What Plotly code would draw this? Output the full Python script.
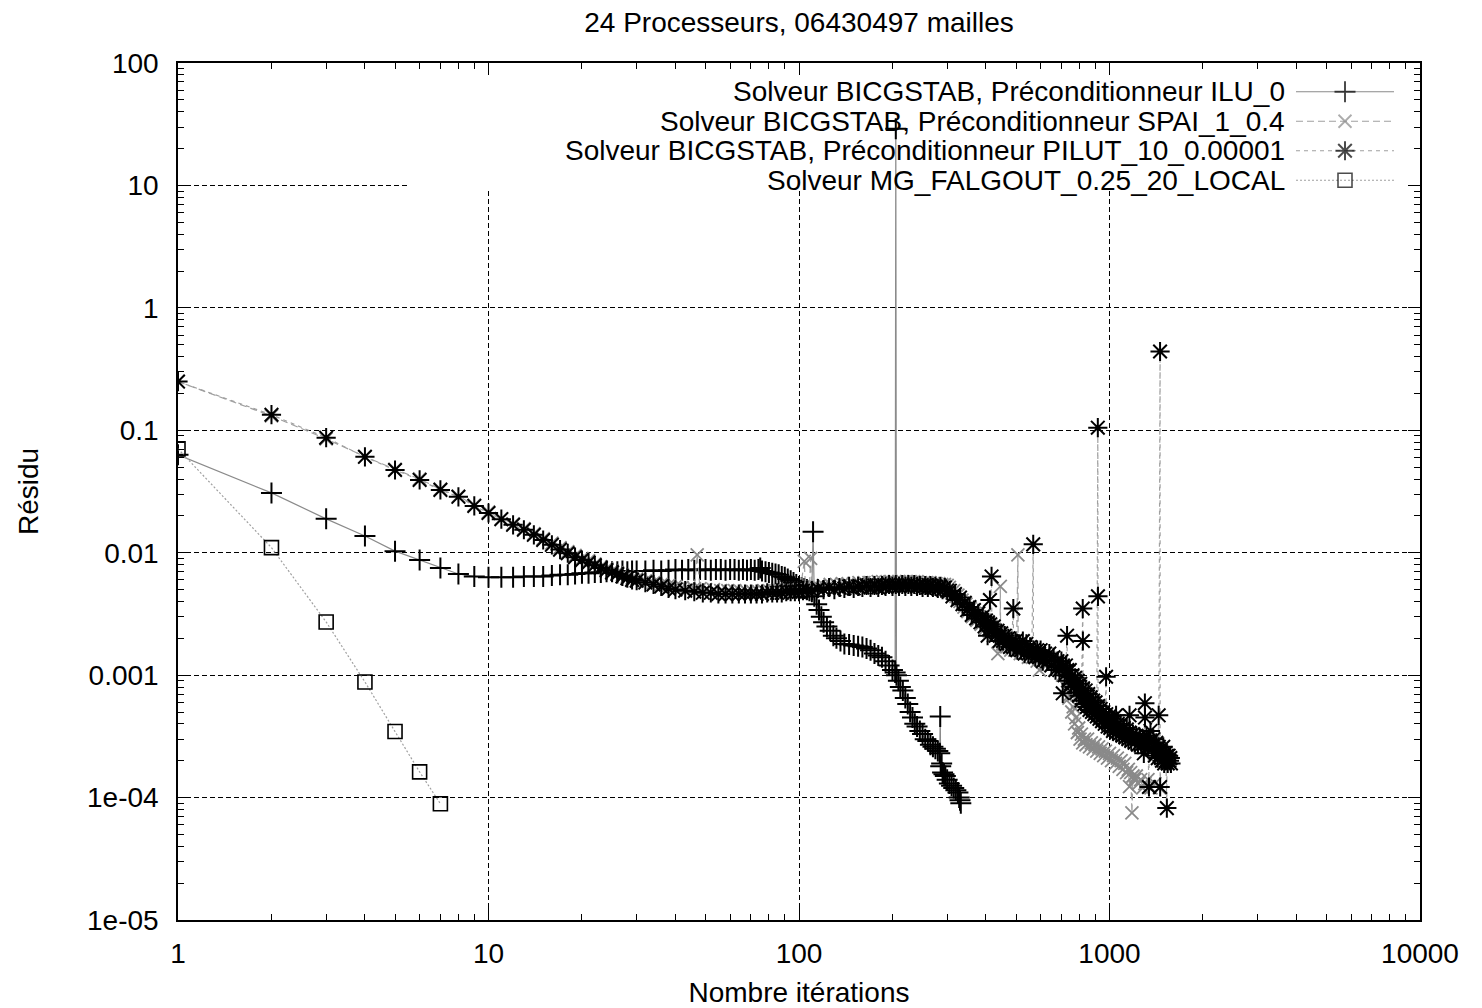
import plotly.graph_objects as go

# ---------------- data ----------------
ilu_x = [1, 2, 3, 4, 5, 6, 7, 8, 9, 10,
         11, 12, 13, 14, 15, 16, 17, 18, 19, 20,
         21, 22, 23, 24, 25, 26, 27, 28, 29, 30,
         32, 34, 36, 38, 40, 42, 44, 46, 48, 50,
         52, 54, 56, 58, 60, 62, 64, 66, 68, 70,
         72, 74, 75, 76, 78, 80, 82, 84, 86, 88,
         90, 92, 94, 96, 98, 100, 102, 104, 106, 108,
         110, 111, 112, 114, 116, 118, 120, 123, 126, 129,
         132, 136, 140, 145, 150, 155, 160, 165, 170, 175,
         180, 185, 190, 195, 200, 204, 205, 206, 209, 212,
         216, 220, 224, 228, 232, 236, 240, 245, 250, 255,
         260, 265, 270, 275, 280, 284, 285, 286, 288, 290,
         293, 296, 300, 305, 310, 315, 320, 325, 328, 330,
         332]
ilu_y = [0.063, 0.0308, 0.0189, 0.0137, 0.0103, 0.0087, 0.0075, 0.0067, 0.0064, 0.0063,
         0.0063, 0.0063, 0.0064, 0.0064, 0.0064, 0.0065, 0.0066, 0.0066, 0.0067, 0.0068,
         0.0068, 0.0069, 0.0069, 0.0070, 0.0070, 0.0070, 0.0071, 0.0070, 0.0071, 0.0071,
         0.0071, 0.0072, 0.0071, 0.0072, 0.0073, 0.0072, 0.0073, 0.0072, 0.0073, 0.0073,
         0.0072, 0.0073, 0.0073, 0.0072, 0.0073, 0.0073, 0.0072, 0.0073, 0.0072, 0.0073,
         0.0072, 0.0073, 0.0075, 0.0071, 0.0070, 0.0069, 0.0068, 0.0067, 0.0066, 0.0064,
         0.0063, 0.0061, 0.0059, 0.0057, 0.0055, 0.0053, 0.0052, 0.0051, 0.0050, 0.0049,
         0.0048, 0.0148, 0.0044, 0.0038, 0.0034, 0.0030, 0.0027, 0.0025, 0.0023, 0.0021,
         0.0020, 0.0019, 0.0018, 0.00178, 0.00175, 0.00172, 0.0017, 0.00165, 0.0016, 0.0015,
         0.00145, 0.0014, 0.0013, 0.0012, 0.0011, 0.00105, 29.0, 0.001, 0.0009, 0.0008,
         0.00075, 0.00065, 0.00058, 0.0005, 0.00045, 0.0004, 0.00038, 0.00035, 0.00033, 0.0003,
         0.00029, 0.00027, 0.00026, 0.00025, 0.00024, 0.00023, 0.00046, 0.00018, 0.00019, 0.00016,
         0.000155, 0.00015, 0.00014, 0.00013, 0.000125, 0.00012, 0.000115, 0.00011, 0.0001, 0.000095,
         0.00009]

spai_x = [1, 2, 3, 4, 5, 6, 7, 8, 9, 10,
          11, 12, 13, 14, 15, 16, 17, 18, 19, 20,
          21, 22, 23, 24, 25, 26, 27, 28, 29, 30,
          32, 34, 36, 38, 40, 42, 44, 46, 47, 48,
          50, 53, 56, 59, 62, 65, 68, 71, 74, 77,
          80, 83, 86, 89, 92, 95, 98, 101, 104, 105,
          108, 109, 110, 115, 120, 126, 132, 138, 144, 150,
          156, 162, 168, 174, 180, 186, 192, 198, 204, 210,
          216, 222, 228, 234, 240, 246, 252, 258, 264, 270,
          276, 282, 288, 294, 300, 305, 310, 315, 320, 325,
          330, 335, 340, 345, 350, 356, 362, 368, 374, 380,
          386, 392, 398, 404, 410, 416, 422, 428, 437, 438,
          444, 445, 446, 453, 460, 467, 474, 481, 488, 495,
          502, 507, 508, 516, 524, 532, 540, 548, 556, 565,
          575, 585, 595, 596, 606, 616, 626, 636, 646, 656,
          666, 676, 686, 696, 706, 716, 724, 732, 740, 748,
          756, 764, 772, 780, 788, 796, 804, 812, 820, 830,
          840, 850, 862, 874, 886, 898, 910, 922, 934, 946,
          958, 970, 985, 1000, 1015, 1030, 1045, 1060, 1075, 1090,
          1105, 1120, 1135, 1150, 1160, 1170, 1181, 1190, 1205, 1220,
          1240, 1260, 1280, 1300, 1330, 1360, 1400, 1450]
spai_y = [0.25, 0.131, 0.085, 0.061, 0.048, 0.040, 0.033, 0.029, 0.0245, 0.0215,
          0.019, 0.0172, 0.0157, 0.0143, 0.013, 0.012, 0.011, 0.0102, 0.0095, 0.009,
          0.0086, 0.0081, 0.0077, 0.0074, 0.0071, 0.0069, 0.0066, 0.0064, 0.0062, 0.0061,
          0.0059, 0.0057, 0.0055, 0.0054, 0.0053, 0.0052, 0.0051, 0.0051, 0.0096, 0.0051,
          0.0050, 0.0050, 0.0049, 0.0049, 0.0049, 0.0048, 0.0048, 0.0048, 0.0048, 0.0049,
          0.0049, 0.0049, 0.0049, 0.0049, 0.0050, 0.0050, 0.0050, 0.0050, 0.0085, 0.0050,
          0.0051, 0.0090, 0.0052, 0.0053, 0.0054, 0.0055, 0.0055, 0.0056, 0.0056, 0.0056,
          0.0057, 0.0057, 0.0057, 0.0057, 0.0058, 0.0058, 0.0058, 0.0058, 0.0058, 0.0058,
          0.0058, 0.0058, 0.0058, 0.0058, 0.0058, 0.0057, 0.0057, 0.0057, 0.0057, 0.0056,
          0.0056, 0.0056, 0.0055, 0.0055, 0.0054, 0.0052, 0.0047, 0.0049, 0.0044, 0.0045,
          0.0040, 0.0041, 0.0036, 0.0038, 0.0033, 0.0035, 0.0030, 0.0032, 0.0028, 0.0030,
          0.0026, 0.0028, 0.0024, 0.0026, 0.0023, 0.0025, 0.0021, 0.0023, 0.0015, 0.0022,
          0.0019, 0.0053, 0.0021, 0.0018, 0.0020, 0.0017, 0.0019, 0.0016, 0.0018, 0.0016,
          0.0017, 0.0096, 0.0017, 0.0015, 0.0017, 0.0015, 0.0016, 0.0014, 0.0016, 0.0014,
          0.0015, 0.0013, 0.0011, 0.0015, 0.0013, 0.0014, 0.0012, 0.0014, 0.0012, 0.0013,
          0.0011, 0.0013, 0.0011, 0.0012, 0.0010, 0.0011, 0.0008, 0.0009, 0.00065, 0.0007,
          0.0005, 0.00055, 0.0004, 0.00045, 0.00034, 0.00037, 0.0003, 0.00033, 0.00028, 0.0003,
          0.00027, 0.00030, 0.00026, 0.00028, 0.00025, 0.00027, 0.00024, 0.00026, 0.00023, 0.00025,
          0.00022, 0.00024, 0.00021, 0.00023, 0.0002, 0.00022, 0.00019, 0.00021, 0.00018, 0.0002,
          0.00017, 0.00019, 0.00016, 0.00017, 0.000123, 0.00016, 0.000075, 0.00015, 0.00014, 0.00015,
          0.00013, 0.00014, 0.00012, 0.00013, 0.00014, 0.00012, 0.00013, 0.00012]

pilut_x = [1, 2, 3, 4, 5, 6, 7, 8, 9, 10,
           11, 12, 13, 14, 15, 16, 17, 18, 19, 20,
           21, 22, 23, 24, 25, 26, 27, 28, 29, 30,
           32, 34, 36, 38, 40, 43, 46, 49, 52, 55,
           58, 61, 64, 67, 70, 73, 76, 79, 82, 85,
           88, 91, 94, 97, 100, 103, 106, 110, 115, 120,
           125, 130, 135, 140, 145, 150, 155, 160, 165, 170,
           175, 180, 185, 190, 195, 200, 205, 210, 215, 220,
           225, 230, 235, 240, 245, 250, 255, 260, 265, 270,
           275, 280, 285, 290, 295, 300, 306, 312, 318, 324,
           330, 336, 342, 348, 354, 360, 366, 372, 378, 384,
           390, 396, 400, 405, 406, 411, 412, 413, 417, 418,
           424, 430, 436, 442, 448, 454, 460, 466, 472, 478,
           484, 490, 491, 498, 505, 512, 519, 526, 533, 540,
           548, 555, 562, 568, 569, 577, 585, 593, 600, 610,
           620, 630, 640, 650, 660, 670, 680, 690, 700, 707,
           708, 716, 724, 730, 731, 738, 745, 752, 760, 768,
           775, 783, 790, 798, 805, 812, 820, 821, 822, 830,
           838, 846, 854, 862, 870, 878, 886, 894, 902, 910,
           917, 918, 919, 928, 937, 946, 955, 965, 975, 976,
           986, 996, 1006, 1016, 1026, 1036, 1050, 1051, 1063, 1075,
           1087, 1100, 1112, 1125, 1137, 1150, 1160, 1161, 1175, 1190,
           1205, 1220, 1235, 1250, 1265, 1280, 1290, 1300, 1301, 1302,
           1316, 1330, 1340, 1341, 1355, 1370, 1385, 1400, 1415, 1430,
           1440, 1441, 1455, 1456, 1465, 1475, 1490, 1500, 1510, 1520,
           1530, 1531, 1540, 1550, 1560, 1570, 1577]
pilut_y = [0.25, 0.134, 0.087, 0.0607, 0.0474, 0.0393, 0.0326, 0.0286, 0.0241, 0.0211,
           0.0188, 0.0169, 0.0154, 0.014, 0.0127, 0.0116, 0.0106, 0.0099, 0.0092, 0.0087,
           0.0083, 0.0079, 0.0075, 0.0072, 0.0069, 0.0067, 0.0064, 0.0062, 0.0060, 0.0059,
           0.0057, 0.0055, 0.0053, 0.0051, 0.0050, 0.0049, 0.0048, 0.0047, 0.0047, 0.0046,
           0.0046, 0.0046, 0.0046, 0.0046, 0.0046, 0.0046, 0.0046, 0.0047, 0.0047, 0.0047,
           0.0047, 0.0048, 0.0048, 0.0048, 0.0048, 0.0049, 0.0049, 0.0049, 0.0051, 0.0050,
           0.0052, 0.0050, 0.0052, 0.0051, 0.0053, 0.0051, 0.0053, 0.0052, 0.0054, 0.0052,
           0.0054, 0.0052, 0.0054, 0.0053, 0.0055, 0.0053, 0.0055, 0.0053, 0.0055, 0.0053,
           0.0055, 0.0053, 0.0055, 0.0053, 0.0054, 0.0052, 0.0054, 0.0052, 0.0054, 0.0052,
           0.0053, 0.0051, 0.0053, 0.0050, 0.0052, 0.0049, 0.0049, 0.0044, 0.0046, 0.0041,
           0.0043, 0.0038, 0.0039, 0.0034, 0.0036, 0.0031, 0.0034, 0.0029, 0.0032, 0.0027,
           0.0030, 0.0025, 0.0028, 0.0021, 0.0027, 0.0024, 0.0041, 0.0026, 0.0064, 0.0023,
           0.0025, 0.0021, 0.0023, 0.0019, 0.0022, 0.0019, 0.0021, 0.0018, 0.0020, 0.0017,
           0.0019, 0.0035, 0.0017, 0.0019, 0.0016, 0.0018, 0.0016, 0.0019, 0.0015, 0.0018,
           0.0015, 0.0017, 0.0015, 0.0117, 0.0016, 0.0014, 0.0016, 0.0014, 0.0016, 0.0013,
           0.0015, 0.0013, 0.0015, 0.0012, 0.0014, 0.0011, 0.0013, 0.0011, 0.0013, 0.00071,
           0.0012, 0.0010, 0.0012, 0.0021, 0.0011, 0.0009, 0.0011, 0.00085, 0.0010, 0.0008,
           0.00095, 0.00072, 0.0009, 0.00068, 0.00085, 0.00062, 0.0035, 0.0019, 0.00078, 0.00058,
           0.00075, 0.00055, 0.0007, 0.00052, 0.00066, 0.0005, 0.00062, 0.00048, 0.0006, 0.00046,
           0.105, 0.0044, 0.00056, 0.00044, 0.00053, 0.00042, 0.0005, 0.0004, 0.00097, 0.00048,
           0.00038, 0.00046, 0.00037, 0.00044, 0.00035, 0.00042, 0.00047, 0.00034, 0.0004, 0.00033,
           0.00039, 0.00032, 0.00037, 0.00031, 0.00036, 0.0003, 0.00047, 0.00034, 0.00029, 0.00033,
           0.00028, 0.00032, 0.00027, 0.00031, 0.00027, 0.0003, 0.00023, 0.00059, 0.00045, 0.00028,
           0.00032, 0.00026, 0.000122, 0.00028, 0.00035, 0.00025, 0.0003, 0.00022, 0.00028, 0.00021,
           0.00047, 0.00026, 0.44, 0.000122, 0.00024, 0.0002, 0.00026, 0.00019, 0.00023, 0.0002,
           0.000082, 0.00022, 0.00019, 0.00022, 0.0002, 0.00021, 0.00019]

mg_x = [1, 2, 3, 4, 5, 6, 7]
mg_y = [0.0705, 0.011, 0.00272, 0.00088, 0.000346, 0.000162, 0.000089]

series_names = ["Solveur BICGSTAB, Préconditionneur ILU_0",
                "Solveur BICGSTAB, Préconditionneur SPAI_1_0.4",
                "Solveur BICGSTAB, Préconditionneur PILUT_10_0.00001",
                "Solveur MG_FALGOUT_0.25_20_LOCAL"]

x_tickvals = [1, 10, 100, 1000, 10000]
x_ticktext = ["1", "10", "100", "1000", "10000"]
y_tickvals = [1e-5, 1e-4, 1e-3, 1e-2, 1e-1, 1, 10, 100]
y_ticktext = ["1e-05", "1e-04", "0.001", "0.01", "0.1", "1", "10", "100"]

assert len(ilu_x) == len(ilu_y)
assert len(spai_x) == len(spai_y)
assert len(pilut_x) == len(pilut_y)

# ---------------- styles ----------------
FONT = "Liberation Sans, Arial, Helvetica, sans-serif"
FS = 28
GREY = "#8a8a8a"
LGREY = "#a0a0a0"

styles = [
    dict(line=dict(color=GREY, width=1.2),
         marker=dict(symbol="cross-thin", size=15, color="black",
                     line=dict(color="black", width=2))),
    dict(line=dict(color=LGREY, width=1.2, dash="7px,4px"),
         marker=dict(symbol="x-thin", size=13, color=GREY,
                     line=dict(color=GREY, width=1.8))),
    dict(line=dict(color=LGREY, width=1.2, dash="4px,4px"),
         marker=dict(symbol="asterisk", size=16, color="black",
                     line=dict(color="black", width=2))),
    dict(line=dict(color=LGREY, width=1.2, dash="2px,2px"),
         marker=dict(symbol="square-open", size=14, color="black",
                     line=dict(color="black", width=1.6))),
]

fig = go.Figure()
data = [(ilu_x, ilu_y), (spai_x, spai_y), (pilut_x, pilut_y), (mg_x, mg_y)]
for (xs, ys), st, nm in zip(data, styles, series_names):
    fig.add_trace(go.Scatter(x=xs, y=ys, mode="lines+markers", name=nm,
                             line=st["line"], marker=st["marker"],
                             showlegend=False))

# ---------------- custom key (text left of sample, gnuplot style) ----------------
rows = [3.5, 2.5, 1.5, 0.5]
for st, r in zip(styles, rows):
    m = dict(st["marker"])
    m["size"] = [0, st["marker"]["size"], 0]
    fig.add_trace(go.Scatter(x=[0, 0.5, 1], y=[r, r, r], xaxis="x2", yaxis="y2",
                             mode="lines+markers", line=st["line"], marker=m,
                             showlegend=False, hoverinfo="skip"))

annotations = []
for nm, r in zip(series_names, rows):
    annotations.append(dict(text=nm, x=(1287 - 178) / 1242, xref="paper",
                            y=r, yref="y2", xanchor="right", yanchor="middle",
                            showarrow=False, font=dict(family=FONT, size=FS, color="black")))

minor_x = [m * 10 ** e for e in range(0, 4) for m in range(2, 10)]
minor_y = [m * 10.0 ** e for e in range(-5, 2) for m in range(2, 10)]

axis_common = dict(
    showline=True, linecolor="black", linewidth=1.5, mirror="ticks",
    ticks="inside", ticklen=12, tickwidth=1.2, tickcolor="black",
    showgrid=True, gridcolor="black", gridwidth=1, griddash="5px,3px",
    zeroline=False, tickfont=dict(family=FONT, size=FS, color="black"),
    automargin=False,
)

# key box: blanks the grid behind the key (data coordinates of the box corners)
key_x0 = 10 ** ((410 - 178) / 310.5)
key_y0 = 10 ** ((308 - 191) / 122.4)

fig.update_layout(
    width=1482, height=1008,
    margin=dict(l=178, r=62, t=63, b=88),
    paper_bgcolor="white", plot_bgcolor="white",
    font=dict(family=FONT, size=FS, color="black"),
    title=dict(text="24 Processeurs, 06430497 mailles", x=799 / 1482, xanchor="center",
               y=1 - 22 / 1008, yref="container", yanchor="middle",
               font=dict(family=FONT, size=FS, color="black")),
    xaxis=dict(type="log", range=[0, 4], tickmode="array", tickvals=x_tickvals,
               ticktext=x_ticktext, ticklabelstandoff=8,
               minor=dict(ticks="inside", ticklen=6, tickwidth=1, tickcolor="black",
                          tickmode="array", tickvals=minor_x, showgrid=False),
               title=dict(text="Nombre itérations", standoff=14,
                          font=dict(family=FONT, size=FS, color="black")),
               **axis_common),
    yaxis=dict(type="log", range=[-5, 2], tickmode="array", tickvals=y_tickvals,
               ticktext=y_ticktext, ticklabelstandoff=12,
               minor=dict(ticks="inside", ticklen=6, tickwidth=1, tickcolor="black",
                          tickmode="array", tickvals=minor_y, showgrid=False),
               title=dict(text="Résidu", standoff=40,
                          font=dict(family=FONT, size=FS, color="black")),
               **axis_common),
    xaxis2=dict(domain=[(1296 - 178) / 1242, (1394 - 178) / 1242], range=[0, 1],
                visible=False, anchor="y2", fixedrange=True),
    yaxis2=dict(domain=[(920 - 195) / 857, (920 - 77) / 857], range=[0, 4],
                visible=False, anchor="x2", fixedrange=True),
    annotations=annotations,
    shapes=[dict(type="rect", xref="x", yref="y",
                 x0=key_x0, x1=10000, y0=key_y0, y1=100,
                 fillcolor="white", line=dict(width=0), layer="between")],
)

fig.write_html("out.html")
